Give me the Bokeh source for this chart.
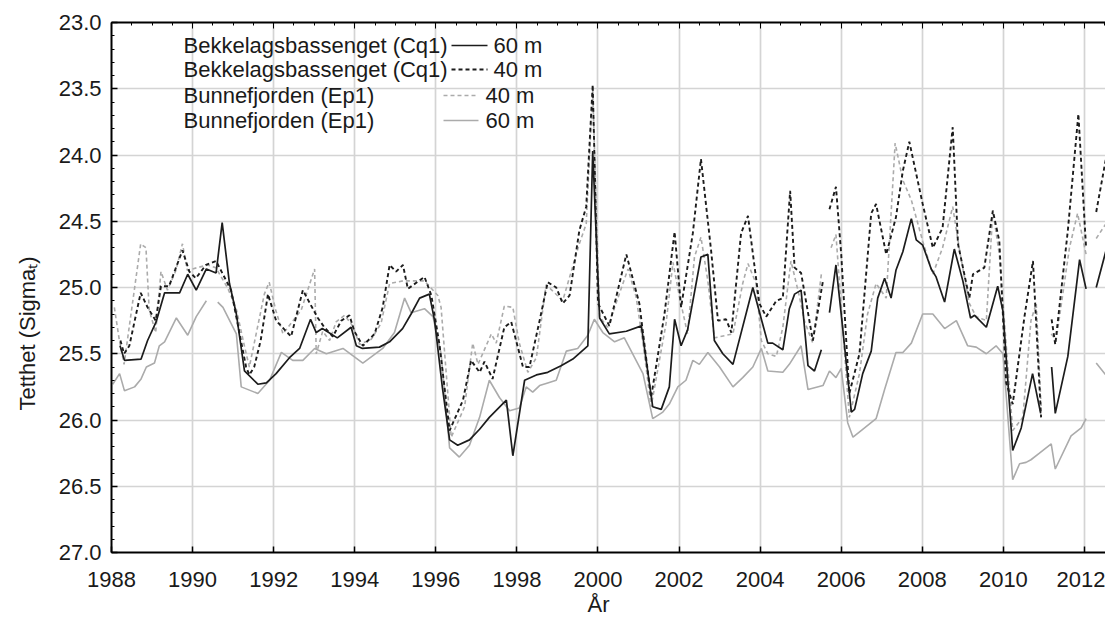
from bokeh.plotting import figure
from bokeh.models import Range1d, LinearAxis, FixedTicker, Label, Arrow, NumeralTickFormatter, Title
from bokeh.embed import file_html
from bokeh.resources import INLINE

nan = float("nan")

# Bekkelagsbassenget (Cq1) 60 m
cq1_60_year = [1988.21, 1988.32, 1988.73, 1988.89, 1989.10, 1989.31, 1989.68, 1989.88, 1990.09, 1990.34,
               1990.58, 1990.73, 1990.91, 1991.08, 1991.28, 1991.61, 1991.82, 1992.06, 1992.39, 1992.64,
               1992.91, 1993.05, 1993.20, 1993.57, 1993.91, 1994.04, 1994.19, 1994.61, 1994.86, 1995.18,
               1995.39, 1995.60, 1995.84, 1995.97, 1996.16, 1996.34, 1996.54, 1996.83, 1997.08, 1997.32,
               1997.74, 1997.90, 1998.19, 1998.48, 1998.76, 1999.09, 1999.38, 1999.75, 1999.87, 2000.04,
               2000.28, 2000.70, 2001.07, 2001.35, 2001.56, 2001.76, 2001.89, 2002.05, 2002.21, 2002.54,
               2002.71, 2002.87, 2003.08, 2003.33, 2003.82, 2004.19, 2004.31, 2004.56, 2004.72, 2004.85,
               2005.01, 2005.18, 2005.34, 2005.51, 2005.60, 2005.71, 2005.87, 2006.02, 2006.25, 2006.33,
               2006.53, 2006.74, 2006.90, 2007.07, 2007.23, 2007.35, 2007.52, 2007.73, 2007.85, 2008.01,
               2008.22, 2008.34, 2008.55, 2008.79, 2009.00, 2009.19, 2009.29, 2009.58, 2009.86, 2009.99,
               2010.23, 2010.44, 2010.72, 2010.92, 2011.05, 2011.19, 2011.28, 2011.59, 2011.88, 2012.04,
               2012.15, 2012.29, 2012.55, 2012.69]
cq1_60_val = [25.44, 25.55, 25.54, 25.40, 25.26, 25.04, 25.04, 24.90, 25.02, 24.86,
              24.89, 24.51, 24.97, 25.20, 25.63, 25.73, 25.72, 25.65, 25.53, 25.46,
              25.24, 25.34, 25.31, 25.38, 25.30, 25.44, 25.46, 25.45, 25.41, 25.31,
              25.20, 25.08, 25.05, 25.25, 25.75, 26.15, 26.19, 26.15, 26.07, 25.98,
              25.85, 26.27, 25.70, 25.66, 25.64, 25.59, 25.54, 25.44, 23.97, 25.23,
              25.35, 25.33, 25.29, 25.90, 25.92, 25.75, 25.24, 25.44, 25.32, 24.77,
              24.75, 25.40, 25.50, 25.58, 25.00, 25.42, 25.42, 25.47, 25.16, 25.05,
              25.02, 25.59, 25.63, 25.47, nan, 25.19, 24.83, 25.26, 25.94, 25.92,
              25.65, 25.48, 25.08, 24.93, 25.08, 24.87, 24.73, 24.48, 24.64, 24.68,
              24.86, 24.92, 25.11, 24.71, 24.95, 25.23, 25.21, 25.30, 24.99, 25.18,
              26.23, 26.06, 25.65, 25.95, nan, 25.60, 25.95, 25.52, 24.79, 25.01,
              nan, 25.00, 24.70, 24.41]

# Bekkelagsbassenget (Cq1) 40 m
cq1_40_year = [1988.22, 1988.31, 1988.44, 1988.72, 1988.89, 1989.09, 1989.22, 1989.42, 1989.59, 1989.75,
               1989.92, 1990.08, 1990.33, 1990.58, 1990.95, 1991.16, 1991.32, 1991.40, 1991.52, 1991.68,
               1991.86, 1992.06, 1992.43, 1992.72, 1992.93, 1993.09, 1993.25, 1993.46, 1993.67, 1993.87,
               1993.99, 1994.20, 1994.49, 1994.69, 1994.86, 1995.02, 1995.19, 1995.31, 1995.72, 1995.89,
               1996.09, 1996.34, 1996.67, 1996.87, 1997.08, 1997.20, 1997.40, 1997.69, 1997.86, 1998.15,
               1998.31, 1998.56, 1998.76, 1998.97, 1999.13, 1999.30, 1999.54, 1999.71, 1999.87, 2000.00,
               2000.28, 2000.70, 2001.02, 2001.31, 2001.64, 2001.89, 2002.05, 2002.34, 2002.54, 2002.79,
               2002.96, 2003.16, 2003.29, 2003.53, 2003.70, 2003.98, 2004.15, 2004.40, 2004.56, 2004.74,
               2004.85, 2005.01, 2005.30, 2005.55, 2005.62, 2005.71, 2005.87, 2006.00, 2006.20, 2006.45,
               2006.74, 2006.86, 2007.11, 2007.35, 2007.52, 2007.68, 2008.01, 2008.26, 2008.50, 2008.75,
               2008.88, 2009.16, 2009.25, 2009.53, 2009.74, 2009.90, 2010.07, 2010.23, 2010.52, 2010.73,
               2010.93, 2011.05, 2011.19, 2011.28, 2011.59, 2011.85, 2012.04, 2012.15, 2012.29, 2012.57,
               2012.69]
cq1_40_val = [25.40, 25.50, 25.44, 25.04, 25.15, 25.25, 24.99, 24.99, 24.85, 24.72,
              24.88, 24.93, 24.83, 24.80, 25.02, 25.35, 25.60, 25.66, 25.60, 25.40,
              25.05, 25.25, 25.37, 25.02, 25.14, 25.23, 25.30, 25.37, 25.25, 25.21,
              25.33, 25.44, 25.35, 25.15, 24.83, 24.88, 24.83, 25.01, 24.92, 25.06,
              25.43, 26.08, 25.85, 25.55, 25.64, 25.56, 25.69, 25.30, 25.26, 25.60,
              25.60, 25.25, 24.96, 25.00, 25.12, 25.06, 24.57, 24.39, 23.47, 25.12,
              25.29, 24.75, 25.12, 25.83, 25.20, 24.58, 25.15, 24.59, 24.03, 24.72,
              25.25, 25.24, 25.34, 24.59, 24.46, 25.12, 25.22, 25.10, 25.08, 24.27,
              24.85, 24.89, 25.40, 24.95, nan, 24.41, 24.24, 24.75, 25.80, 25.50,
              24.44, 24.37, 24.75, 24.47, 24.12, 23.90, 24.37, 24.70, 24.55, 23.79,
              24.67, 25.08, 24.90, 24.85, 24.42, 24.65, 25.72, 25.88, 25.22, 24.80,
              25.98, nan, 25.24, 25.43, 24.57, 23.69, 24.70, nan, 24.43, 23.96,
              23.95]

# Bunnefjorden (Ep1) 40 m
ep1_40_year = [1988.07, 1988.19, 1988.31, 1988.72, 1988.85, 1988.93, 1989.09, 1989.22, 1989.38, 1989.59,
               1989.75, 1989.87, 1990.12, 1990.37, 1990.57, 1990.86, 1991.07, 1991.27, 1991.40, 1991.77,
               1991.89, 1992.05, 1992.23, 1992.68, 1993.01, 1993.05, 1993.21, 1993.38, 1993.54, 1993.75,
               1993.95, 1994.12, 1994.41, 1994.65, 1994.86, 1995.19, 1995.72, 1996.05, 1996.13, 1996.38,
               1996.71, 1996.91, 1997.04, 1997.37, 1997.49, 1997.69, 1997.90, 1998.06, 1998.27, 1998.48,
               1998.72, 1998.93, 1999.13, 1999.54, 1999.71, 1999.87, 2000.04, 2000.24, 2000.74, 2000.94,
               2001.11, 2001.31, 2001.68, 2001.85, 2002.01, 2002.21, 2002.38, 2002.54, 2002.71, 2002.87,
               2003.33, 2003.57, 2003.70, 2003.90, 2004.03, 2004.19, 2004.40, 2004.56, 2004.76, 2004.97,
               2005.09, 2005.30, 2005.51, 2005.62, 2005.75, 2005.87, 2006.20, 2006.45, 2006.65, 2006.86,
               2007.11, 2007.33, 2007.52, 2007.73, 2008.01, 2008.26, 2008.50, 2008.75, 2008.92, 2009.16,
               2009.33, 2009.58, 2009.74, 2009.90, 2010.23, 2010.48, 2010.68, 2010.81, 2010.93, 2011.05,
               2011.18, 2011.30, 2011.63, 2011.83, 2012.04, 2012.15, 2012.29, 2012.57, 2012.69]
ep1_40_val = [25.15, 25.39, 25.58, 24.67, 24.70, 25.17, 25.34, 24.88, 25.02, 24.87,
              24.67, 24.87, 24.85, 24.83, 24.85, 25.00, 25.15, 25.43, 25.60, 25.05,
              24.96, 25.17, 25.35, 25.17, 24.86, 25.50, 25.33, 25.40, 25.26, 25.21,
              25.29, 25.43, 25.39, 25.27, 24.97, 24.95, 24.95, 25.06, 25.15, 26.13,
              25.90, 25.42, 25.58, 25.35, 25.42, 25.14, 25.15, 25.42, 25.64, 25.53,
              24.98, 25.04, 25.10, 24.67, 24.52, 23.51, 25.22, 25.30, 24.86, 25.07,
              25.42, 25.90, 25.27, 24.81, 25.07, 25.35, 24.77, 24.62, 24.95, 25.38,
              25.35, 24.97, 24.82, 24.97, 25.40, 25.50, 25.52, 25.30, 24.80, 25.07,
              25.25, 25.42, 24.90, nan, 24.70, 24.60, 25.98, 25.65, 25.20, 24.97,
              25.08, 23.91, 24.19, 24.34, 24.65, 24.90, 24.70, 24.39, 24.72, 25.12,
              25.22, 25.25, 24.42, 24.75, 26.08, 25.98, 25.25, 25.12, 25.90, nan,
              25.35, 25.40, 24.70, 24.44, 24.75, nan, 24.63, 24.50, 24.33]

# Bunnefjorden (Ep1) 60 m
ep1_60_year = [1988.03, 1988.20, 1988.32, 1988.57, 1988.73, 1988.86, 1989.06, 1989.18, 1989.31, 1989.60,
               1989.88, 1990.09, 1990.34, 1990.48, 1990.62, 1990.75, 1991.08, 1991.20, 1991.61, 1991.90,
               1992.19, 1992.47, 1992.72, 1993.01, 1993.30, 1993.71, 1994.20, 1994.69, 1994.98, 1995.23,
               1995.39, 1995.72, 1995.93, 1996.13, 1996.34, 1996.58, 1996.83, 1997.08, 1997.32, 1997.57,
               1997.82, 1998.06, 1998.23, 1998.39, 1998.56, 1998.76, 1998.97, 1999.22, 1999.50, 1999.75,
               1999.91, 2000.12, 2000.41, 2000.65, 2001.11, 2001.35, 2001.60, 2001.76, 2001.97, 2002.17,
               2002.34, 2002.50, 2002.71, 2003.00, 2003.33, 2003.57, 2003.82, 2004.03, 2004.19, 2004.56,
               2004.72, 2005.01, 2005.18, 2005.55, 2005.71, 2005.87, 2006.00, 2006.16, 2006.29, 2006.53,
               2006.86, 2007.07, 2007.35, 2007.52, 2007.73, 2008.01, 2008.26, 2008.55, 2008.84, 2009.12,
               2009.33, 2009.58, 2009.82, 2009.99, 2010.23, 2010.40, 2010.56, 2010.68, 2010.89, 2011.18,
               2011.28, 2011.67, 2011.92, 2012.04, 2012.15, 2012.29, 2012.58, 2012.69]
ep1_60_val = [25.73, 25.65, 25.78, 25.75, 25.69, 25.60, 25.57, 25.44, 25.41, 25.23,
              25.36, 25.22, 25.10, nan, 25.11, 25.15, 25.35, 25.75, 25.80, 25.70,
              25.49, 25.55, 25.55, 25.46, 25.50, 25.46, 25.57, 25.46, 25.34, 25.08,
              25.19, 25.16, 25.22, 25.50, 26.21, 26.28, 26.19, 25.98, 25.70, 25.83,
              25.93, 25.91, 25.75, 25.79, 25.74, 25.72, 25.70, 25.48, 25.46, 25.36,
              25.24, 25.34, 25.41, 25.38, 25.65, 25.99, 25.94, 25.88, 25.75, 25.70,
              25.55, 25.58, 25.49, 25.60, 25.75, 25.68, 25.60, 25.46, 25.63, 25.64,
              25.58, 25.44, 25.77, 25.74, 25.63, 25.68, 25.61, 26.02, 26.13, 26.07,
              25.99, 25.77, 25.49, 25.49, 25.42, 25.20, 25.20, 25.31, 25.25, 25.44,
              25.45, 25.50, 25.44, 25.50, 26.45, 26.33, 26.32, 26.30, 26.25, 26.18,
              26.37, 26.12, 26.06, 25.99, nan, 25.57, 25.68, 25.59]

x_ticks = [1988, 1990, 1992, 1994, 1996, 1998, 2000, 2002, 2004, 2006, 2008, 2010, 2012]
x_minor = [1988 + 0.5 * i for i in range(50)]
y_ticks = [23.0, 23.5, 24.0, 24.5, 25.0, 25.5, 26.0, 26.5, 27.0]
y_minor = [round(23.0 + 0.1 * i, 1) for i in range(41)]

x_title = "År"
y_title = "Tetthet (Sigmaₜ)"
legend_names = ["Bekkelagsbassenget (Cq1)", "Bekkelagsbassenget (Cq1)", "Bunnefjorden (Ep1)", "Bunnefjorden (Ep1)"]
legend_depths = ["60 m", "40 m", "40 m", "60 m"]

FONT = "Liberation Sans"
FS = "22px"
TXT = "#1a1a1a"
BLACK = "#1c1c1c"
GRAY = "#ababab"

# frame geometry (pixels)
FL, FT, FB, FR = 111, 22, 552, 1105
PX_PER_YEAR = 40.54
x_end = 1988 + (FR - FL) / PX_PER_YEAR

p = figure(width=1105, height=623, output_backend="svg", toolbar_location=None,
           x_range=Range1d(1988, x_end), y_range=Range1d(27, 23),
           min_border_left=FL, min_border_right=0, min_border_top=FT, min_border_bottom=623 - FB)
p.outline_line_color = None
p.background_fill_color = "white"
p.border_fill_color = "white"

# grids
p.xgrid.ticker = FixedTicker(ticks=x_ticks)
p.ygrid.ticker = FixedTicker(ticks=y_ticks)
for g in (p.xgrid, p.ygrid):
    g.grid_line_color = "#d4d4d4"
    g.grid_line_width = 1.7

# bottom axis
xa = p.xaxis[0]
xa.ticker = FixedTicker(ticks=x_ticks, minor_ticks=[])
xa.major_tick_in = 6
xa.major_tick_out = 0
xa.minor_tick_in = 0
xa.minor_tick_out = 0
xa.axis_line_width = 2
xa.axis_line_color = "black"
xa.major_tick_line_color = "black"
xa.major_tick_line_width = 1.5
xa.major_label_text_font = FONT
xa.major_label_text_font_size = FS
xa.major_label_text_color = TXT
xa.major_label_standoff = 19

# left axis
ya = p.yaxis[0]
ya.ticker = FixedTicker(ticks=y_ticks, minor_ticks=y_minor)
ya.formatter = NumeralTickFormatter(format="0.0")
ya.major_tick_in = 6
ya.major_tick_out = 0
ya.minor_tick_in = 3
ya.minor_tick_out = 0
ya.axis_line_width = 2
ya.axis_line_color = "black"
ya.major_tick_line_color = "black"
ya.minor_tick_line_color = "black"
ya.major_tick_line_width = 1.5
ya.major_label_text_font = FONT
ya.major_label_text_font_size = FS
ya.major_label_text_color = TXT
ya.major_label_standoff = 10

# top axis (frame line with inward ticks, no labels drawn)
ta = LinearAxis(ticker=FixedTicker(ticks=x_ticks, minor_ticks=x_minor),
                major_label_text_font_size="1px", major_label_text_color=None, major_label_standoff=0,
                major_tick_in=6, major_tick_out=0, minor_tick_in=3, minor_tick_out=0,
                axis_line_width=2, axis_line_color="black",
                major_tick_line_color="black", minor_tick_line_color="black")
p.add_layout(ta, "above")

# axis titles as side titles (positioned like the reference)
p.add_layout(Title(text=x_title, align="left", offset=476, standoff=0, vertical_align="bottom",
                   text_font=FONT, text_font_size=FS, text_font_style="normal", text_color=TXT), "below")
p.add_layout(Title(text=y_title, align="left", offset=142, standoff=28, vertical_align="top",
                   text_font=FONT, text_font_size=FS, text_font_style="normal", text_color=TXT), "left")

# series
p.line(ep1_60_year, ep1_60_val, line_color=GRAY, line_width=1.6)
p.line(ep1_40_year, ep1_40_val, line_color=GRAY, line_width=1.6, line_dash="4 3")
p.line(cq1_40_year, cq1_40_val, line_color=BLACK, line_width=1.9, line_dash="4 3")
p.line(cq1_60_year, cq1_60_val, line_color=BLACK, line_width=1.7)


def px_x(px):
    return 1988 + (px - FL) / PX_PER_YEAR


def px_y(py):
    return 23 + (py - FT) / 132.5


# legend (station text, sample line, depth)
rows_y = [45, 69, 95, 120]
line_x = [(451, 487), (451, 487), (443, 478), (443, 478)]
depth_x = [493, 493, 485, 485]
styles = [(BLACK, 1.7, "solid"), (BLACK, 1.9, "4 3"), (GRAY, 1.6, "4 3"), (GRAY, 1.6, "solid")]
for name, depth, ry, (lx0, lx1), dx, (col, lw, dash) in zip(legend_names, legend_depths, rows_y, line_x, depth_x, styles):
    p.add_layout(Label(x=px_x(183), y=px_y(ry), text=name, text_font=FONT, text_font_size=FS,
                       text_color=TXT, text_baseline="middle", text_align="left"))
    p.add_layout(Arrow(end=None, x_start=px_x(lx0), y_start=px_y(ry), x_end=px_x(lx1), y_end=px_y(ry),
                       line_color=col, line_width=lw, line_dash=dash))
    p.add_layout(Label(x=px_x(dx), y=px_y(ry), text=depth, text_font=FONT, text_font_size=FS,
                       text_color=TXT, text_baseline="middle", text_align="left"))

open("out.html", "w").write(file_html(p, INLINE))
